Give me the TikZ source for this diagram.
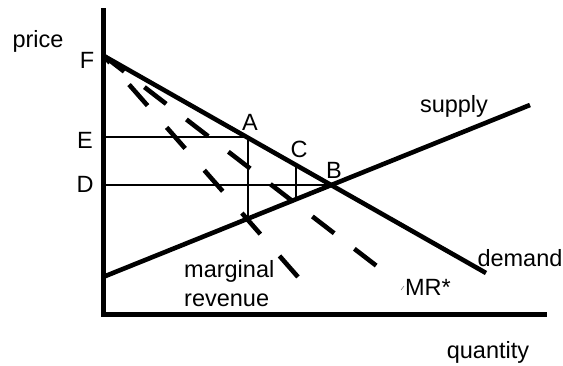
\documentclass[tikz,border=0pt]{standalone}
\usepackage{fontspec}
\setmainfont{Liberation Sans}
\usetikzlibrary{positioning}

\begin{document}
\begin{tikzpicture}[x=1pt,y=-1pt,
      axis/.style={line width=5pt},
      curve/.style={line width=4.6pt},
      guide/.style={line width=2.2pt},
      mrline/.style={line width=4.6pt,dash pattern=on 28pt off 29pt,dash phase=19pt},
      mrstar/.style={line width=4.6pt,dash pattern=on 27.5pt off 25.5pt,dash phase=2pt},
      lbl/.style={font=\fontsize{23.5}{28}\selectfont,inner sep=0pt,anchor=base}]
    \useasboundingbox (0,0) rectangle (563,365);
    % axes
    \coordinate (ytop) at (103,8);
    \coordinate (O) at (103,314);
    \coordinate (xend) at (547,314);
    \draw[axis] (ytop) -- (O) -- (xend);
    % demand and supply
    \coordinate (F) at (104,56);
    \coordinate (dend) at (486,273);
    \coordinate (s0) at (103,277);
    \coordinate (s1) at (530,105);
    \coordinate (A) at (248,137);
    \coordinate (B) at (332,185);
    \coordinate (C) at (296,164.4);
    \coordinate (Asup) at (248,219);
    \coordinate (Csup) at (296,199.5);
    \coordinate (E) at (103,137);
    \coordinate (D) at (103,185);
    \draw[curve] (F) -- (dend);
    \draw[curve] (s0) -- (s1);
    \draw[guide] (E) -- (A) -- (Asup);
    \draw[guide] (D) -- (B);
    \draw[guide] (C) -- (Csup);
    % marginal revenue curves
    \coordinate (mrend) at (298,277);
    \coordinate (mrsend) at (378,267);
    \draw[mrline] (F) -- (mrend);
    \draw[mrstar] (F) -- (mrsend);
    \coordinate (tick0) at (401,290);
    \coordinate (tick1) at (404,286);
    \draw[gray,line width=0.6pt] (tick0) -- (tick1);
    % labels
    \node[lbl] (lprice) at (38,47) {price};
    \node[lbl] (lF) at (87,68) {F};
    \node[lbl] (lE) at (85,148) {E};
    \node[lbl] (lD) at (85,192) {D};
    \node[lbl] (lA) at (250,130) {A};
    \node[lbl] (lC) at (299,157) {C};
    \node[lbl] (lB) at (334,178) {B};
    \node[lbl] (lsupply) at (454,112) {supply};
    \node[lbl] (ldemand) at (520,266) {demand};
    \node[lbl] (lmrs) at (428,295) {MR*};
    \node[lbl,anchor=base west] (lmarg) at (184,277) {marginal};
    \node[lbl,anchor=base west] (lrev) at (184,306) {revenue};
    \node[lbl] (lqty) at (488,358) {quantity};
  \end{tikzpicture}
\end{document}
